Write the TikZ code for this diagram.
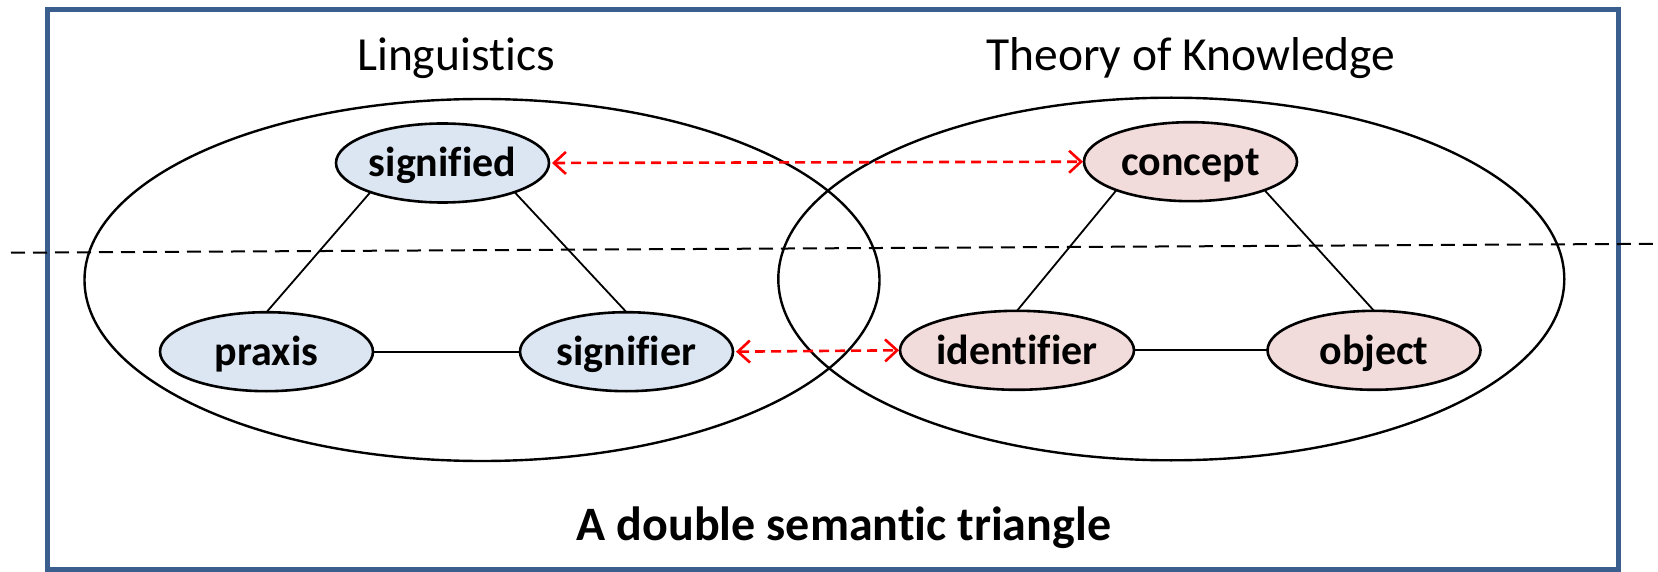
\documentclass[tikz,border=0pt]{standalone}
\usepackage{fontspec}
\setmainfont{Carlito}[Ligatures={NoCommon}]
\usetikzlibrary{arrows.meta,shapes.geometric}
\definecolor{framec}{HTML}{3A5F8F}
\definecolor{bluefill}{HTML}{DCE6F2}
\definecolor{pinkfill}{HTML}{F2DCDB}
\tikzset{
  term/.style={ellipse, draw=black, line width=2.6pt, inner sep=0pt, outer sep=0pt,
    minimum width=213pt, minimum height=79pt,
    font=\fontsize{42}{50}\selectfont\bfseries, text height=35pt, text depth=7pt},
  ling/.style={term, fill=bluefill},
  know/.style={term, fill=pinkfill},
  edge/.style={line width=1.8pt, black},
  region/.style={line width=2.4pt, black},
  corr/.style={red, line width=2.6pt, dash pattern=on 10pt off 6pt,
    {Straight Barb[length=12pt,width=22pt,line width=2.6pt]}-{Straight Barb[length=12pt,width=22pt,line width=2.6pt]}},
  heading/.style={font=\fontsize{47.5}{56}\selectfont, anchor=base, inner sep=0pt},
  caption/.style={font=\fontsize{48}{56}\selectfont\bfseries, anchor=base, inner sep=0pt},
}
\begin{document}
\begin{tikzpicture}[x=1pt,y=-1pt]
\useasboundingbox (0,0) rectangle (1658,572);
\fill[white] (0,0) rectangle (1658,572);
% frame
\draw[framec, line width=5pt] (47.8,9.2) rectangle (1618.7,569.5);
% headings
\node[heading] (hling) at (456,70.7) {Linguistics};
\node[heading] (hknow) at (1190.8,70.7) {Theory of Knowledge};
\node[caption] (cap) at (844,540.7) {A double semantic triangle};
% region ellipses
\draw[region] (482,280) ellipse [x radius=397.5, y radius=181];
\draw[region] (1171.3,279) ellipse [x radius=393, y radius=181.3];
% dashed separator
\coordinate (dl) at (11,252.7);
\coordinate (dr) at (1658,243.8);
\draw[black, line width=2pt, dash pattern=on 14pt off 8pt] (dl) -- (dr);
% terms
\node[ling] (signified) at (442.5,163) {signified};
\node[ling] (praxis) at (266.5,351.7) {praxis};
\node[ling] (signifier) at (626.5,351.7) {signifier};
\node[know] (concept) at (1190.5,161.7) {concept};
\node[know, minimum width=234pt] (identifier) at (1017,350.3) {identifier};
\node[know] (object) at (1374,350.3) {object};
% triangle edges
\draw[edge] (signified.202) -- (praxis.north);
\draw[edge] (signified.338) -- (signifier.north);
\draw[edge] (praxis.east) -- (signifier.west);
\draw[edge] (concept.201) -- (identifier.north);
\draw[edge] (concept.339) -- (object.north);
\draw[edge] (identifier.east) -- (object.west);
% correspondences
\draw[corr, shorten <=3pt, shorten >=1pt] (signified.east) -- (concept.west);
\draw[corr, shorten <=3pt, shorten >=1pt] (signifier.east) -- (identifier.west);
\end{tikzpicture}
\end{document}
